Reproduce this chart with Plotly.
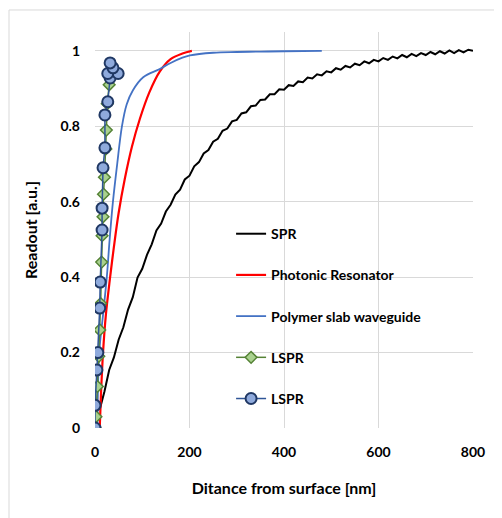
import plotly.graph_objects as go

# ---- data ----
spr_x = [10, 20, 30, 40, 50, 60, 70, 80, 90, 100, 110, 120, 130, 140, 150, 160, 170, 180, 190, 200,
         210, 220, 230, 240, 250, 260, 270, 280, 290, 300, 310, 320, 330, 340, 350, 360, 370, 380, 390, 400,
         410, 420, 430, 440, 450, 460, 470, 480, 490, 500, 510, 520, 530, 540, 550, 560, 570, 580, 590, 600,
         610, 620, 630, 640, 650, 660, 670, 680, 690, 700, 710, 720, 730, 740, 750, 760, 770, 780, 790, 800]
spr_y = [0.049, 0.097, 0.154, 0.187, 0.234, 0.267, 0.314, 0.347, 0.399, 0.422,
         0.459, 0.487, 0.524, 0.542, 0.574, 0.592, 0.619, 0.632, 0.659, 0.669,
         0.694, 0.705, 0.728, 0.737, 0.759, 0.767, 0.788, 0.794, 0.813, 0.817,
         0.834, 0.837, 0.853, 0.855, 0.870, 0.871, 0.885, 0.885, 0.898, 0.897,
         0.909, 0.907, 0.919, 0.917, 0.929, 0.927, 0.938, 0.935, 0.946, 0.943,
         0.954, 0.950, 0.960, 0.956, 0.966, 0.962, 0.972, 0.967, 0.976, 0.972,
         0.981, 0.976, 0.985, 0.980, 0.989, 0.983, 0.992, 0.986, 0.994, 0.989,
         0.997, 0.991, 0.999, 0.993, 1.001, 0.994, 1.002, 0.996, 1.003, 1.000]

photonic_x = [10, 13, 17, 23, 32, 40, 50, 63, 78, 95, 115, 137, 160, 185, 205]
photonic_y = [0.0, 0.10, 0.20, 0.30, 0.40, 0.48, 0.57, 0.66, 0.745, 0.82, 0.89, 0.945, 0.978, 0.993, 1.0]

polymer_x = [5, 9, 17, 25, 31, 38, 47, 57, 67, 80, 102, 137, 160, 185, 201, 250, 300, 350, 400, 480]
polymer_y = [0.0, 0.2, 0.3, 0.4, 0.5, 0.6, 0.7, 0.8, 0.858, 0.895, 0.93, 0.952, 0.968, 0.982, 0.988,
             0.995, 0.997, 0.998, 0.999, 1.0]

lspr1_x = [0, 2, 5, 8, 10, 12, 14, 15, 17, 18, 20, 23, 24, 26, 30]
lspr1_y = [0.0, 0.03, 0.11, 0.19, 0.26, 0.33, 0.44, 0.51, 0.56, 0.62, 0.665, 0.74, 0.79, 0.86, 0.91]

lspr2_x = [0, 0, 4, 6, 10, 11, 15, 15, 17, 21, 21, 27, 32, 49, 27, 38, 32]
lspr2_y = [0.0, 0.06, 0.154, 0.2, 0.318, 0.387, 0.525, 0.583, 0.69, 0.743, 0.83, 0.865, 0.928,
           0.94, 0.94, 0.955, 0.968]

x_ticks = [0, 200, 400, 600, 800]
y_ticks = [0, 0.2, 0.4, 0.6, 0.8, 1]
y_tick_text = ["0", "0.2", "0.4", "0.6", "0.8", "1"]

FONT = "Lato"

fig = go.Figure()
fig.add_trace(go.Scatter(x=spr_x, y=spr_y, mode="lines", name="SPR", legendgroup="a",
                         line=dict(color="black", width=2)))
fig.add_trace(go.Scatter(x=photonic_x, y=photonic_y, mode="lines", name="Photonic Resonator",
                         legendgroup="b", line=dict(color="#FF0000", width=2.2, shape="spline")))
fig.add_trace(go.Scatter(x=polymer_x, y=polymer_y, mode="lines", name="Polymer slab waveguide",
                         legendgroup="c", line=dict(color="#4472C4", width=1.8, shape="spline")))
fig.add_trace(go.Scatter(x=lspr1_x, y=lspr1_y, mode="lines+markers", name="LSPR", legendgroup="d",
                         line=dict(color="#548235", width=1.5),
                         marker=dict(symbol="diamond", size=9, color="#A9D18E",
                                     line=dict(color="#548235", width=1.5))))
fig.add_trace(go.Scatter(x=lspr2_x, y=lspr2_y, mode="lines+markers", name="LSPR", legendgroup="e",
                         line=dict(color="#2F5597", width=1.5),
                         marker=dict(symbol="circle", size=11, color="#8FAADC",
                                     line=dict(color="#203864", width=2))))

fig.update_layout(
    width=494, height=510,
    margin=dict(l=87, r=29, t=24, b=90),
    paper_bgcolor="white", plot_bgcolor="white",
    font=dict(family=FONT, color="#000000"),
    showlegend=True,
    legend=dict(x=0.36, y=0.53, xanchor="left", yanchor="top",
                font=dict(family=FONT, size=14, color="#000000", weight="bold"),
                bgcolor="rgba(0,0,0,0)", tracegroupgap=20),
    shapes=[dict(type="rect", xref="paper", yref="paper", x0=-0.2275, x1=1.0714,
                 y0=-0.25, y1=1.0556, line=dict(color="#D9D9D9", width=1), layer="below")],
)
fig.update_xaxes(range=[0, 800], tickvals=x_ticks, showgrid=True, gridcolor="#D9D9D9", gridwidth=1,
                 zeroline=False, showline=False, ticks="", ticklabelstandoff=14,
                 tickfont=dict(family=FONT, size=14, color="#000000", weight="bold"),
                 title=dict(text="Ditance from surface [nm]", standoff=23,
                            font=dict(family=FONT, size=16, color="#000000", weight="bold")))
fig.update_yaxes(range=[0, 1.05], tickvals=y_ticks, ticktext=y_tick_text, showgrid=True,
                 gridcolor="#D9D9D9", gridwidth=1, zeroline=False, showline=False, ticks="",
                 ticklabelstandoff=14,
                 tickfont=dict(family=FONT, size=14, color="#000000", weight="bold"),
                 title=dict(text="Readout [a.u.]", standoff=18,
                            font=dict(family=FONT, size=16, color="#000000", weight="bold")))

fig.write_html("out.html")
